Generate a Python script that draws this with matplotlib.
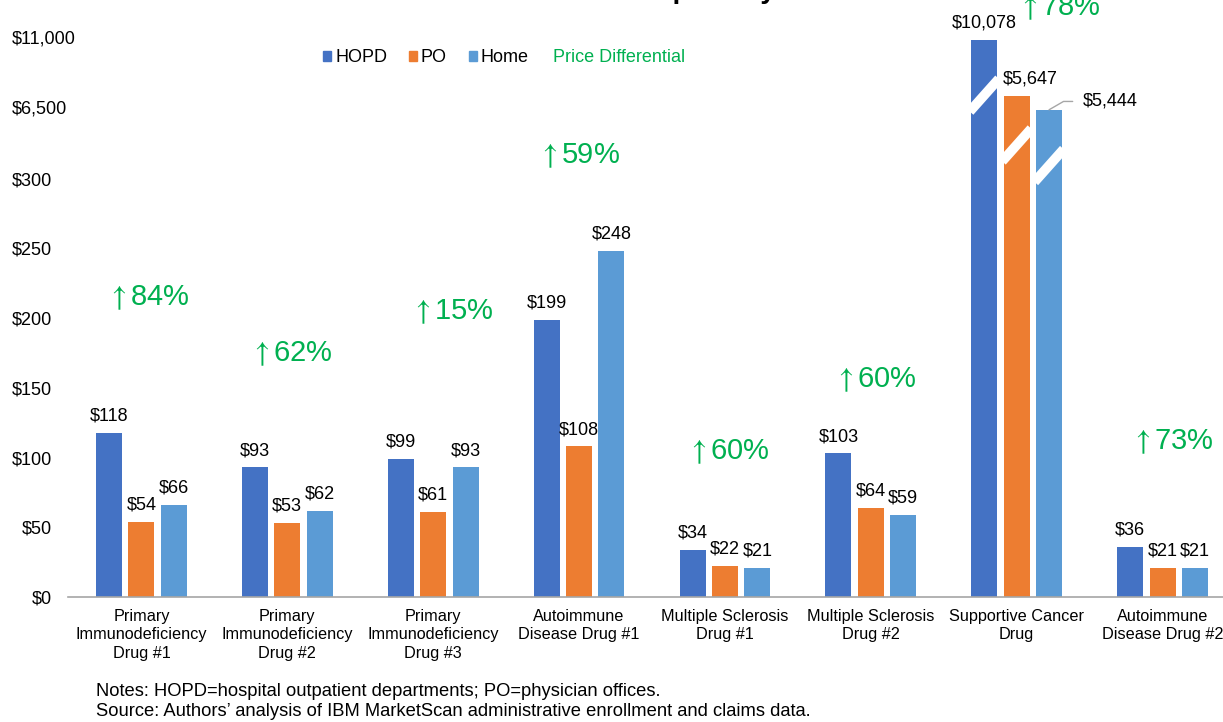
import numpy as np
import matplotlib
matplotlib.use("Agg")
import matplotlib.pyplot as plt
from matplotlib.patches import Patch
from matplotlib.transforms import blended_transform_factory

plt.rcParams['font.family'] = ['Liberation Sans', 'DejaVu Sans']

# ---- data ----
categories = ["Primary\nImmunodeficiency\nDrug #1",
              "Primary\nImmunodeficiency\nDrug #2",
              "Primary\nImmunodeficiency\nDrug #3",
              "Autoimmune\nDisease Drug #1",
              "Multiple Sclerosis\nDrug #1",
              "Multiple Sclerosis\nDrug #2",
              "Supportive Cancer\nDrug",
              "Autoimmune\nDisease Drug #2"]
hopd = [118, 93, 99, 199, 34, 103, 10078, 36]
po = [54, 53, 61, 108, 22, 64, 5647, 21]
home = [66, 62, 93, 248, 21, 59, 5444, 21]
price_diff = [84, 62, 15, 59, 60, 60, 78, 73]

y_ticks = [0, 50, 100, 150, 200, 250, 300]
break_labels = ["$6,500", "$11,000"]

# colours
c_hopd = "#4472C4"
c_po = "#ED7D31"
c_home = "#5B9BD5"
c_green = "#00B050"
c_axis = "#A6A6A6"

# broken y axis: linear to $300, then squeezed for the cancer drug
bp_val = [0, 300, 5444, 5647, 10078, 15000]
bp_pos = [0, 6, 6.99, 7.19, 7.99, 8.9]


def fwd(v):
    return np.interp(v, bp_val, bp_pos)


def inv(p):
    return np.interp(p, bp_pos, bp_val)


# layout of the green "price differential" boxes (x shift, position on axis)
diff_dx = [0.05, 0.03, 0.13, 0.0, 0.02, 0.03, 0.29, 0.07]
diff_pos = [4.29, 3.49, 4.09, 6.33, 2.08, 3.11, 8.45, 2.22]
# diagonal break marks on the cancer bars (position on axis)
break_pos = [7.2, 6.485, 6.19]

fig = plt.figure(figsize=(12.23, 7.22), dpi=100)
ax = fig.add_axes([68.5 / 1223, 125 / 722, 1167 / 1223, 597 / 722])
ax.set_yscale('function', functions=(fwd, inv))

x = np.arange(len(categories))
off = 0.222
w = 0.178
ax.bar(x - off, hopd, w, color=c_hopd, zorder=2)
ax.bar(x, po, w, color=c_po, zorder=2)
ax.bar(x + off, home, w, color=c_home, zorder=2)

ax.set_xlim(-0.5, 7.5)
ax.set_ylim(0, inv(8.565))

# value labels
for i in range(len(categories)):
    for dx, vals in [(-off, hopd), (0, po), (off, home)]:
        v = vals[i]
        if i == 6 and dx == off:
            ax.annotate(f"${v:,}", xy=(i + dx, v), xytext=(24, 6), textcoords='offset points',
                        ha='left', va='center', fontsize=13,
                        arrowprops=dict(arrowstyle='-', color=c_axis, lw=1, shrinkA=5, shrinkB=0,
                                        relpos=(0, 0.5),
                                        connectionstyle="angle,angleA=180,angleB=30,rad=0"))
            continue
        shift = 10 if (i == 6 and dx == 0) else 0
        ax.annotate(f"${v:,}", xy=(i + dx, v), xytext=(shift, 6), textcoords='offset points',
                    ha='center', va='bottom', fontsize=13)

# break marks
for k, dx in enumerate([-off, 0, off]):
    xc = 6 + dx
    c = break_pos[k]
    ax.plot([xc - 0.1, xc + 0.1], [inv(c - 0.235), inv(c + 0.235)], color='white',
            lw=7, solid_capstyle='butt', zorder=3)

# price differential labels
for i, d in enumerate(price_diff):
    ax.text(i + diff_dx[i], inv(diff_pos[i]), r"$\uparrow$" + f"{d}%", color=c_green, fontsize=21,
            ha='center', va='center', clip_on=False, math_fontfamily='stix')

# axes styling
for s in ['left', 'top', 'right']:
    ax.spines[s].set_visible(False)
ax.spines['bottom'].set_color(c_axis)
ax.spines['bottom'].set_linewidth(1.2)
ax.set_yticks(y_ticks)
ax.set_yticklabels([f"${t}" for t in y_ticks])
ax.minorticks_off()
ax.tick_params(axis='y', length=0, pad=11.9, labelsize=13)
ax.set_xticks(x)
ax.set_xticklabels(categories, fontsize=11.7, linespacing=1.3)
ax.tick_params(axis='x', length=0, pad=8.5)

trans = blended_transform_factory(fig.transFigure, ax.transData)
for p, lab in zip([7, 8], break_labels):
    ax.text(12 / 1223, inv(p), lab, transform=trans, ha='left', va='center', fontsize=13)

# legend
handles = [Patch(color=c_hopd), Patch(color=c_po), Patch(color=c_home)]
fig.legend(handles, ["HOPD", "PO", "Home"], loc='center left',
           bbox_to_anchor=(323 / 1223, 1 - 58 / 722), ncol=3, frameon=False, fontsize=13,
           handlelength=0.45, handleheight=0.45, handletextpad=0.22, columnspacing=1.2,
           borderpad=0, borderaxespad=0)
fig.text(553 / 1223, 1 - 58 / 722, "Price Differential", color=c_green, fontsize=13,
         ha='left', va='center')

# title (mostly cut off at the top of the image)
fig.text(654 / 1223, 1 + 1.5 / 722, "Specialty", fontsize=20, fontweight='bold',
         ha='left', va='baseline')

# notes
fig.text(96 / 1223, 1 - 691 / 722, "Notes: HOPD=hospital outpatient departments; PO=physician offices.",
         fontsize=13.2, ha='left', va='center')
fig.text(96 / 1223, 1 - 711 / 722,
         "Source: Authors\u2019 analysis of IBM MarketScan administrative enrollment and claims data.",
         fontsize=13.2, ha='left', va='center')

fig.savefig("out.png", dpi=100)
